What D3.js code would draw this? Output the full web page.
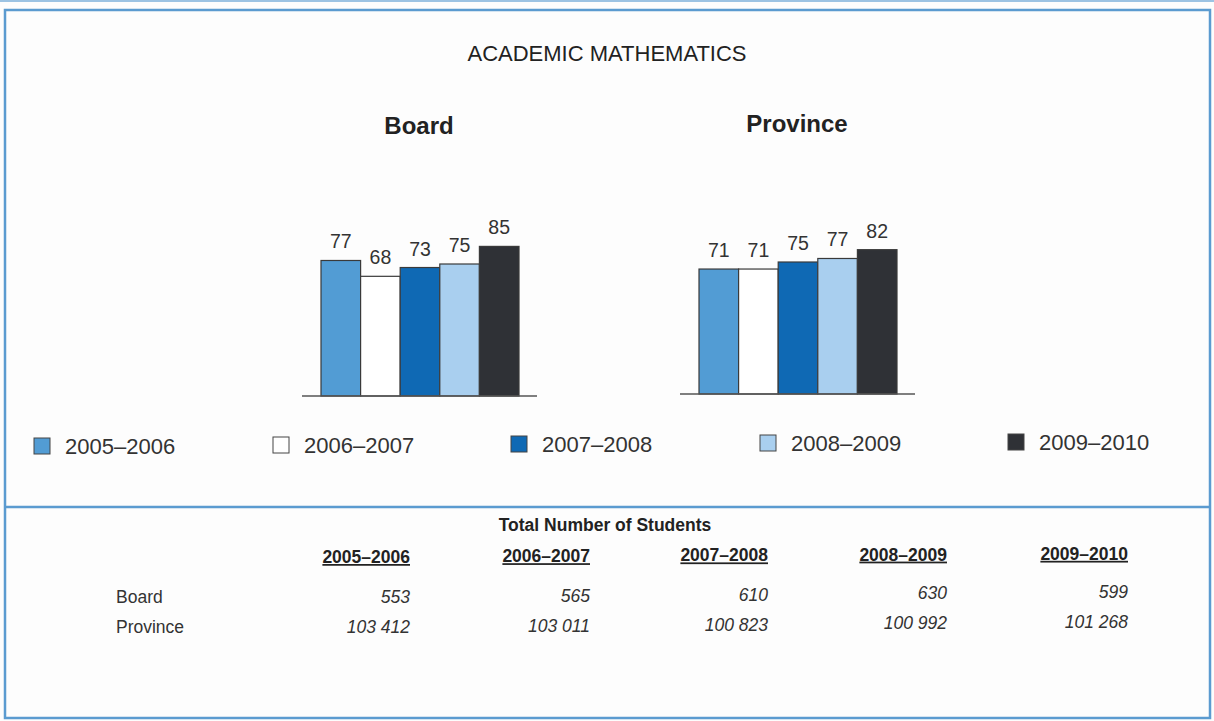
<!DOCTYPE html>
<html>
<head>
<meta charset="utf-8">
<script src="https://cdn.jsdelivr.net/npm/d3@7"></script>
<style>
  body { margin: 0; background: #fdfdfd; }
  svg { font-family: "Liberation Sans", Arial, sans-serif; display: block; }
</style>
</head>
<body>
<div id="chart-area"></div>
<script>
// school years (series)
var years = ["2005–2006", "2006–2007", "2007–2008", "2008–2009", "2009–2010"];
// percentages per panel
var boardValues = [77, 68, 73, 75, 85];
var provinceValues = [71, 71, 75, 77, 82];
// total number of students
var boardStudents = ["553", "565", "610", "630", "599"];
var provinceStudents = ["103 412", "103 011", "100 823", "100 992", "101 268"];

var colors = ["#529cd4", "#ffffff", "#0f69b4", "#a9cfef", "#2f3136"];

var svg = d3.select("#chart-area").append("svg")
    .attr("width", 1214)
    .attr("height", 721);

// frame
var frameColor = "#5b9bd0";
svg.append("rect").attr("x", 0).attr("y", 0).attr("width", 1214).attr("height", 721).attr("fill", "#fdfdfd");
svg.append("line").attr("x1", 0).attr("x2", 1214).attr("y1", 1).attr("y2", 1)
    .attr("stroke", "#9cc3e3").attr("stroke-width", 2);
svg.append("rect").attr("x", 5).attr("y", 10).attr("width", 1205).attr("height", 708)
    .attr("fill", "none").attr("stroke", frameColor).attr("stroke-width", 2.5);
svg.append("line").attr("x1", 5).attr("x2", 1210).attr("y1", 507).attr("y2", 507)
    .attr("stroke", frameColor).attr("stroke-width", 2.5);

svg.append("text").attr("x", 607).attr("y", 61).attr("text-anchor", "middle")
    .attr("font-size", 22).attr("fill", "#222").text("ACADEMIC MATHEMATICS");

// one bar panel
function drawPanel(title, values, x0, x1, baseY, titleX, titleY) {
    var g = svg.append("g");

    var x = d3.scaleBand().domain(years).range([x0, x1]).padding(0);
    var y = d3.scaleLinear().domain([0, 100]).range([baseY, baseY - 176]);

    g.append("text").attr("x", titleX).attr("y", titleY).attr("text-anchor", "middle")
        .attr("font-size", 24).attr("font-weight", "bold").attr("fill", "#222").text(title);

    g.selectAll("rect.bar")
        .data(values)
        .enter()
        .append("rect")
        .attr("class", "bar")
        .attr("x", function(d, i) {return x(years[i]);})
        .attr("y", function(d) {return y(d);})
        .attr("width", x.bandwidth())
        .attr("height", function(d) {return baseY - y(d);})
        .attr("fill", function(d, i) {return colors[i];})
        .attr("stroke", "#3a3a3a")
        .attr("stroke-width", 1.2);

    g.selectAll("text.val")
        .data(values)
        .enter()
        .append("text")
        .attr("class", "val")
        .attr("x", function(d, i) {return x(years[i]) + x.bandwidth() / 2;})
        .attr("y", function(d) {return y(d) - 12;})
        .attr("text-anchor", "middle")
        .attr("font-size", 19.5)
        .attr("fill", "#333")
        .text(function(d) {return d;});

    // baseline
    g.append("line").attr("x1", x0 - 19).attr("x2", x1 + 18).attr("y1", baseY).attr("y2", baseY)
        .attr("stroke", "#555").attr("stroke-width", 1.3);
}

drawPanel("Board", boardValues, 321, 519, 396, 419, 134);
drawPanel("Province", provinceValues, 699, 897, 394, 797, 132);

// legend
var legendX = [34, 273, 511, 760, 1008];
var legend = svg.selectAll("g.legend")
    .data(years)
    .enter()
    .append("g")
    .attr("class", "legend")
    .attr("transform", function(d, i) {return "translate(" + legendX[i] + "," + (446 - i) + ")";});

legend.append("rect")
    .attr("x", 0).attr("y", -8).attr("width", 16).attr("height", 16)
    .attr("fill", function(d, i) {return colors[i];})
    .attr("stroke", "#444").attr("stroke-width", 1);

legend.append("text")
    .attr("x", 31).attr("y", 8)
    .attr("font-size", 22).attr("fill", "#333")
    .text(function(d) {return d;});

// students table
svg.append("text").attr("x", 605).attr("y", 531).attr("text-anchor", "middle")
    .attr("font-size", 17.5).attr("font-weight", "bold").attr("fill", "#222")
    .text("Total Number of Students");

var colX = [410, 590, 768, 947, 1128];

svg.selectAll("text.head")
    .data(years)
    .enter()
    .append("text")
    .attr("class", "head")
    .attr("x", function(d, i) {return colX[i];})
    .attr("y", function(d, i) {return 563 - i * 0.8;})
    .attr("text-anchor", "end")
    .attr("font-size", 17.5)
    .attr("font-weight", "bold")
    .attr("fill", "#222")
    .attr("text-decoration", "underline")
    .text(function(d) {return d;});

var rows = [
    {label: "Board", vals: boardStudents, y: 603},
    {label: "Province", vals: provinceStudents, y: 633}
];

rows.forEach(function(r) {
    svg.append("text").attr("x", 116).attr("y", r.y).attr("font-size", 17.5)
        .attr("fill", "#333").text(r.label);
    svg.selectAll(null)
        .data(r.vals)
        .enter()
        .append("text")
        .attr("x", function(d, i) {return colX[i];})
        .attr("y", function(d, i) {return r.y - i * 1.2;})
        .attr("text-anchor", "end")
        .attr("font-size", 17.5)
        .attr("font-style", "italic")
        .attr("fill", "#333")
        .text(function(d) {return d;});
});
</script>
</body>
</html>
